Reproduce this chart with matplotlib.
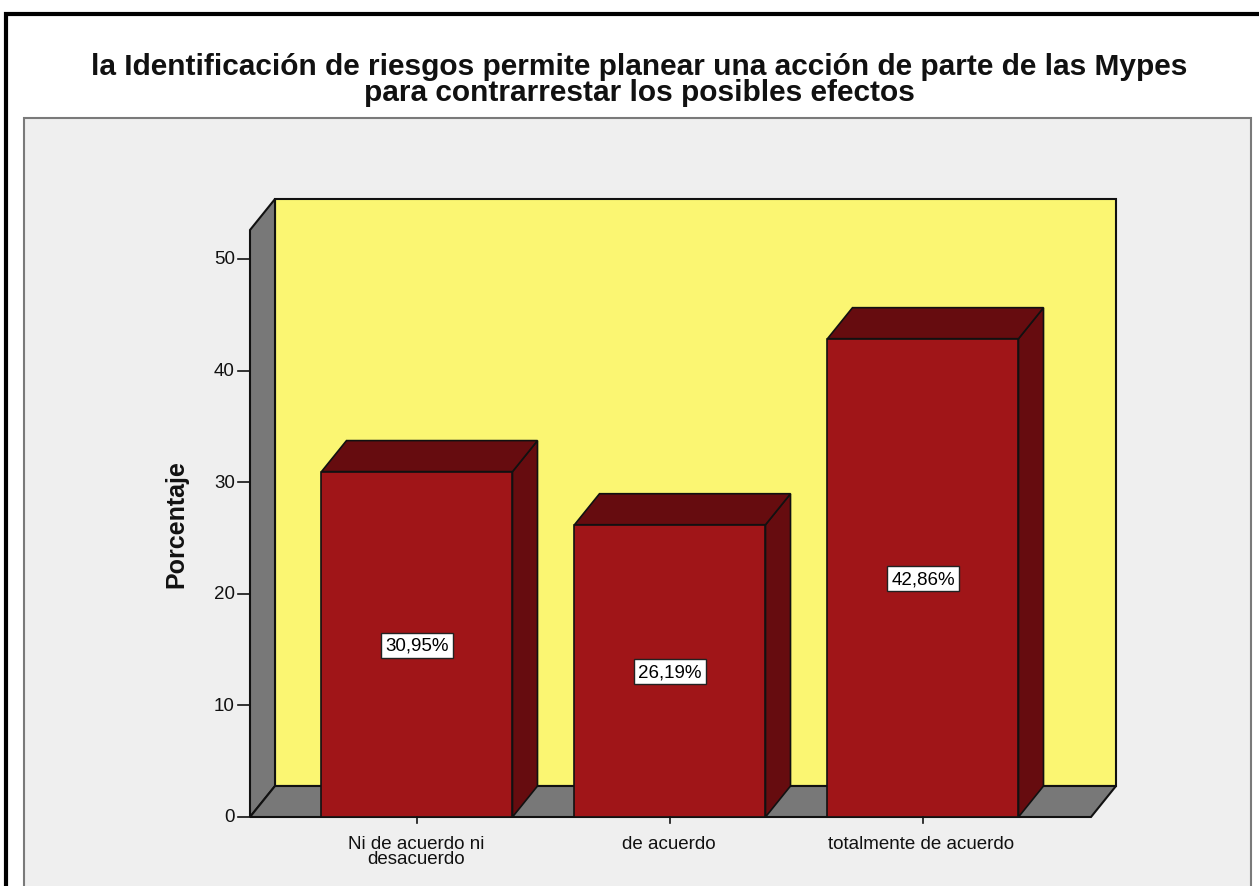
import matplotlib
matplotlib.use("Agg")
import matplotlib.pyplot as plt
from matplotlib.patches import Polygon, Rectangle

W, H = 1259, 887
categories = ["Ni de acuerdo ni\ndesacuerdo", "de acuerdo", "totalmente de acuerdo"]
values = [30.95, 26.19, 42.86]
labels = ["30,95%", "26,19%", "42,86%"]
yticks = [0, 10, 20, 30, 40, 50]
title = "la Identificación de riesgos permite planear una acción de parte de las Mypes\npara contrarrestar los posibles efectos"
ylabel = "Porcentaje"

plt.rcParams['font.family'] = ['Liberation Sans', 'DejaVu Sans']
fig = plt.figure(figsize=(W/100, H/100), dpi=100, facecolor="white")
ax = fig.add_axes([0, 0, 1, 1])
ax.set_xlim(0, W); ax.set_ylim(H, 0); ax.axis("off")

EC = "#111111"
# outer frame
ax.add_patch(Rectangle((6, 15), W+20, H+20, fc="white", ec="black", lw=3))
# plot area
ax.add_patch(Rectangle((24, 119), W-24-8, H, fc="#efefef", ec="#7a7a7a", lw=1.5))

x0, y0 = 250, 818          # front floor-left, y for value 0
dx, dy = 25, -31           # depth offset
per = (818 - 260) / 50.0   # pixels per unit
xr = 1091                  # front floor-right
ytop = 231

# back wall
ax.add_patch(Rectangle((x0+dx, ytop+dy), xr-x0, y0-ytop, fc="#fbf672", ec=EC, lw=1.5))
# left wall
ax.add_patch(Polygon([(x0, ytop), (x0+dx, ytop+dy), (x0+dx, y0+dy), (x0, y0)], fc="#787878", ec=EC, lw=1.5))
# floor
ax.add_patch(Polygon([(x0, y0), (xr, y0), (xr+dx, y0+dy), (x0+dx, y0+dy)], fc="#787878", ec=EC, lw=1.5))

centers = [417, 670, 923]
bw = 191
for c, v, lab in zip(centers, values, labels):
    l, r = c-bw/2, c+bw/2
    t = y0 - v*per
    ax.add_patch(Polygon([(r, y0), (r+dx, y0+dy), (r+dx, t+dy), (r, t)], fc="#660c0f", ec=EC, lw=1.2))
    ax.add_patch(Polygon([(l, t), (l+dx, t+dy), (r+dx, t+dy), (r, t)], fc="#660c0f", ec=EC, lw=1.2))
    ax.add_patch(Rectangle((l, t), bw, y0-t, fc="#a01518", ec=EC, lw=1.2))
    ax.text(c, (t+y0)/2 + 1, lab, ha="center", va="center", fontsize=13.5, color="black",
            bbox=dict(boxstyle="square,pad=0.22", fc="white", ec="#222222", lw=1))

for t in yticks:
    y = y0 - t*per
    ax.plot([x0-12, x0], [y, y], color=EC, lw=1.2)
    ax.text(x0-15, y, str(t), ha="right", va="center", fontsize=13.5, color="#111111")

for c, cat in zip(centers, categories):
    ax.plot([c, c], [y0, y0+6], color=EC, lw=1.2)
    ax.text(c-1 if c != 923 else c-2, 836, cat, ha="center", va="top", fontsize=13.5, color="#111111", linespacing=0.85)

ax.text(176, 524, ylabel, rotation=90, ha="center", va="center", fontsize=18, fontweight="bold", color="#111111")
ax.text(639, 80, title, ha="center", va="center", fontsize=21.5, fontweight="bold", color="#111111", linespacing=0.9)

fig.savefig("out.png", dpi=100, facecolor="white")
